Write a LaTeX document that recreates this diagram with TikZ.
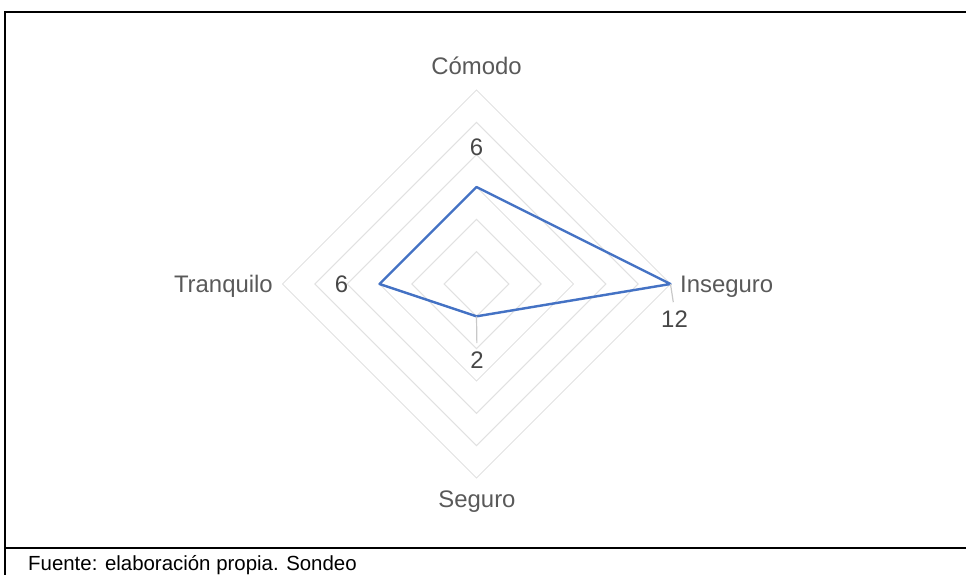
\documentclass[tikz,border=0pt]{standalone}
\usepackage{fontspec}
\setmainfont{Liberation Sans}
\usepackage{tikz}
\usetikzlibrary{positioning}
\definecolor{gridgray}{RGB}{225,225,225}
\definecolor{leadergray}{RGB}{200,200,200}
\definecolor{labelgray}{RGB}{89,89,89}
\definecolor{seriesblue}{RGB}{68,114,196}
\tikzset{
    % Text styles
    axislabel/.style={text=labelgray, font=\fontsize{24}{28}\selectfont, inner sep=0pt},
    valuelabel/.style={text=labelgray!80!black, font=\fontsize{24}{28}\selectfont, inner sep=0pt},
    % Line styles
    ring/.style={draw=gridgray, line width=1bp},
    series/.style={draw=seriesblue, line width=2.4bp, line join=round},
    leader/.style={draw=leadergray, line width=1.2bp, shorten >=8bp},
    frame/.style={draw=black, line width=2bp}
}

\begin{document}
\begin{tikzpicture}[x=1bp, y=-1bp]
        \useasboundingbox (0,0) rectangle (966,575);

        % Frame of the table cell
        \draw[frame] (5,575) -- (5,12.5) -- (966,12.5);
        \draw[frame] (5,548) -- (966,548);

        % Chart centre
        \coordinate (C) at (476.5,284);

        % Grid rings (2 to 12, step 2)
        \foreach \r in {1,...,6} {
            \draw[ring] ([shift={(0,-32.33*\r)}]C) -- ([shift={(32.33*\r,0)}]C)
                -- ([shift={(0,32.33*\r)}]C) -- ([shift={(-32.33*\r,0)}]C) -- cycle;
        }

        % Data points
        \coordinate (pcomodo) at ([shift={(0,-97)}]C);
        \coordinate (pinseguro) at ([shift={(194,0)}]C);
        \coordinate (pseguro) at ([shift={(0,32.33)}]C);
        \coordinate (ptranquilo) at ([shift={(-97,0)}]C);

        % Series
        \draw[series] (pcomodo) -- (pinseguro) -- (pseguro) -- (ptranquilo) -- cycle;

        % Axis labels
        \node[axislabel, anchor=base] (comodo) at (476.5,75) {Cómodo};
        \node[axislabel, anchor=base west] (inseguro) at (680,292) {Inseguro};
        \node[axislabel, anchor=base] (seguro) at (477,507) {Seguro};
        \node[axislabel, anchor=base east] (tranquilo) at (273,292) {Tranquilo};

        % Value labels
        \node[valuelabel, anchor=base] (vcomodo) at (476.5,156) {6};
        \node[valuelabel, anchor=base] (vinseguro) at (674.5,327) {12};
        \node[valuelabel, anchor=base] (vseguro) at (477,368) {2};
        \node[valuelabel, anchor=base] (vtranquilo) at (341.5,292) {6};

        % Leader lines
        \draw[leader] (pinseguro) -- (vinseguro.north);
        \draw[leader] (pseguro) -- (vseguro.north);

        % Source note
        \node[anchor=base west, inner sep=0pt, font=\fontsize{20.5}{24}\selectfont] (fuente) at (28,570.5) {Fuente: elaboración propia. Sondeo};
    \end{tikzpicture}
\end{document}
